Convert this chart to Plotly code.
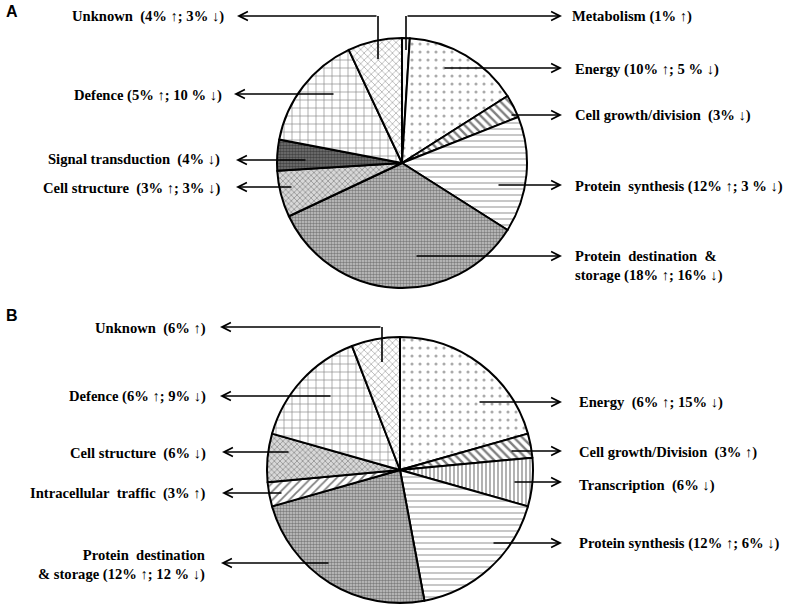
import plotly.graph_objects as go

# ---------------- data ----------------
pieA_labels = ["Metabolism", "Energy", "Cell growth/division", "Protein synthesis",
               "Protein destination & storage", "Cell structure", "Signal transduction",
               "Defence", "Unknown"]
pieA_values = [1, 15, 3, 15, 34, 6, 4, 15, 7]
pieA_texts = ["Metabolism (1% ↑)", "Energy (10% ↑; 5 % ↓)", "Cell growth/division&nbsp; (3% ↓)",
              "Protein&nbsp; synthesis (12% ↑; 3 % ↓)",
              "Protein&nbsp; destination&nbsp; &<br>storage (18% ↑; 16% ↓)",
              "Cell structure&nbsp; (3% ↑; 3% ↓)", "Signal transduction&nbsp; (4% ↓)",
              "Defence (5% ↑; 10 % ↓)", "Unknown&nbsp; (4% ↑; 3% ↓)"]

pieB_labels = ["Energy", "Cell growth/Division", "Transcription", "Protein synthesis",
               "Protein destination & storage", "Intracellular traffic", "Cell structure",
               "Defence", "Unknown"]
pieB_values = [21, 3, 6, 18, 24, 3, 6, 15, 6]
pieB_texts = ["Energy&nbsp; (6% ↑; 15% ↓)", "Cell growth/Division&nbsp; (3% ↑)",
              "Transcription&nbsp; (6% ↓)", "Protein synthesis (12% ↑; 6% ↓)",
              "Protein&nbsp; destination<br>& storage (12% ↑; 12 % ↓)",
              "Intracellular&nbsp; traffic&nbsp; (3% ↑)", "Cell structure&nbsp; (6% ↓)",
              "Defence (6% ↑; 9% ↓)", "Unknown&nbsp; (6% ↑)"]

# ---------------- styles ----------------
W, H = 787, 608
pat_style = {
    "Metabolism": dict(shape="", bg="#f4f4f4", fg="#999", size=6, sol=0.2),
    "Energy": dict(shape=".", bg="white", fg="#555", size=8, sol=0.12),
    "Cell growth": dict(shape="\\", bg="white", fg="black", size=6, sol=0.4),
    "Protein synthesis": dict(shape="-", bg="white", fg="#444", size=6, sol=0.2),
    "Protein destination": dict(shape=".", bg="#c8c8c8", fg="#333", size=3, sol=0.55),
    "Cell structure": dict(shape="x", bg="#d8d8d8", fg="#444", size=4, sol=0.35),
    "Signal transduction": dict(shape=".", bg="#777", fg="#111", size=3, sol=0.6),
    "Defence": dict(shape="+", bg="white", fg="black", size=8, sol=0.15),
    "Unknown": dict(shape="x", bg="white", fg="#444", size=5, sol=0.25),
    "Transcription": dict(shape="|", bg="white", fg="black", size=4, sol=0.3),
    "Intracellular": dict(shape="/", bg="white", fg="black", size=6, sol=0.3),
}

def style_for(label):
    for k, v in pat_style.items():
        if label.startswith(k):
            return v
    return pat_style["Metabolism"]

def pie(labels, values, dom_px):
    x0, x1, y0, y1 = dom_px
    st = [style_for(l) for l in labels]
    return go.Pie(
        labels=labels, values=values, sort=False, direction="clockwise", rotation=0,
        textinfo="none", hoverinfo="label+value", showlegend=False,
        domain=dict(x=[x0 / W, x1 / W], y=[1 - y1 / H, 1 - y0 / H]),
        marker=dict(
            colors=[s["bg"] for s in st],
            line=dict(color="black", width=2),
            pattern=dict(shape=[s["shape"] for s in st],
                         fgcolor=[s["fg"] for s in st],
                         size=[s["size"] for s in st],
                         solidity=[s["sol"] for s in st],
                         fillmode="overlay"),
        ),
    )

fig = go.Figure()
fig.add_trace(pie(pieA_labels, pieA_values, (277, 527, 38, 288)))
fig.add_trace(pie(pieB_labels, pieB_values, (267, 533, 337, 603)))

# callout geometry: (text index, text x, text y, side, tip x, tail x, tail y, elbow y)
calloutsA = [
    (0, 570, 16, "L", 562, 406, 16, 50),
    (1, 573, 69, "L", 562, 443, 68, None),
    (2, 573, 115, "L", 562, 510, 115, None),
    (3, 573, 186, "L", 562, 497, 185, None),
    (4, 573, 266, "L", 562, 415, 256, None),
    (5, 222, 188, "R", 236, 293, 187, None),
    (6, 222, 159, "R", 236, 307, 160, None),
    (7, 224, 95, "R", 234, 335, 94, None),
    (8, 226, 16, "R", 237, 378, 16, 59),
]
calloutsB = [
    (0, 577, 402, "L", 562, 478, 402, None),
    (1, 577, 452, "L", 562, 510, 451, None),
    (2, 577, 485, "L", 562, 513, 482, None),
    (3, 577, 543, "L", 562, 492, 543, None),
    (4, 207, 565, "R", 221, 330, 563, None),
    (5, 208, 493, "R", 222, 283, 493, None),
    (6, 208, 453, "R", 222, 290, 452, None),
    (7, 208, 396, "R", 220, 332, 396, None),
    (8, 208, 328, "R", 220, 382, 327, 362),
]

font = dict(family="Liberation Serif, Times New Roman, serif", size=14.6, color="black")
for texts, callouts in ((pieA_texts, calloutsA), (pieB_texts, calloutsB)):
    for idx, tx, ty, side, tipx, tailx, taily, elbow in callouts:
        fig.add_annotation(x=tx, y=ty, xref="x", yref="y", text="<b>" + texts[idx] + "</b>",
                           showarrow=False, font=font,
                           xanchor="left" if side == "L" else "right", yanchor="middle",
                           align="left" if side == "L" else "right")
        fig.add_annotation(x=tipx, y=taily, ax=tailx, ay=taily, xref="x", yref="y",
                           axref="x", ayref="y", text="", showarrow=True,
                           arrowhead=5, arrowsize=1.1, arrowwidth=1.6, arrowcolor="black",
                           standoff=0, startstandoff=0)
        if elbow is not None:
            fig.add_shape(type="line", x0=tailx, x1=tailx, y0=taily, y1=elbow,
                          xref="x", yref="y", line=dict(color="black", width=1.6))

for lab, ly in (("A", 11), ("B", 315)):
    fig.add_annotation(x=4, y=ly, xref="x", yref="y", text="<b>" + lab + "</b>",
                       showarrow=False, xanchor="left", yanchor="middle",
                       font=dict(family="Liberation Sans, Arial, sans-serif", size=16, color="black"))

fig.update_layout(
    width=W, height=H, margin=dict(l=0, r=0, t=0, b=0),
    paper_bgcolor="white", plot_bgcolor="white",
    xaxis=dict(range=[0, W], visible=False, fixedrange=True, domain=[0, 1]),
    yaxis=dict(range=[H, 0], visible=False, fixedrange=True, domain=[0, 1]),
)

fig.write_html("out.html", config={"displayModeBar": False},
               post_script="document.body.style.margin='0';")
